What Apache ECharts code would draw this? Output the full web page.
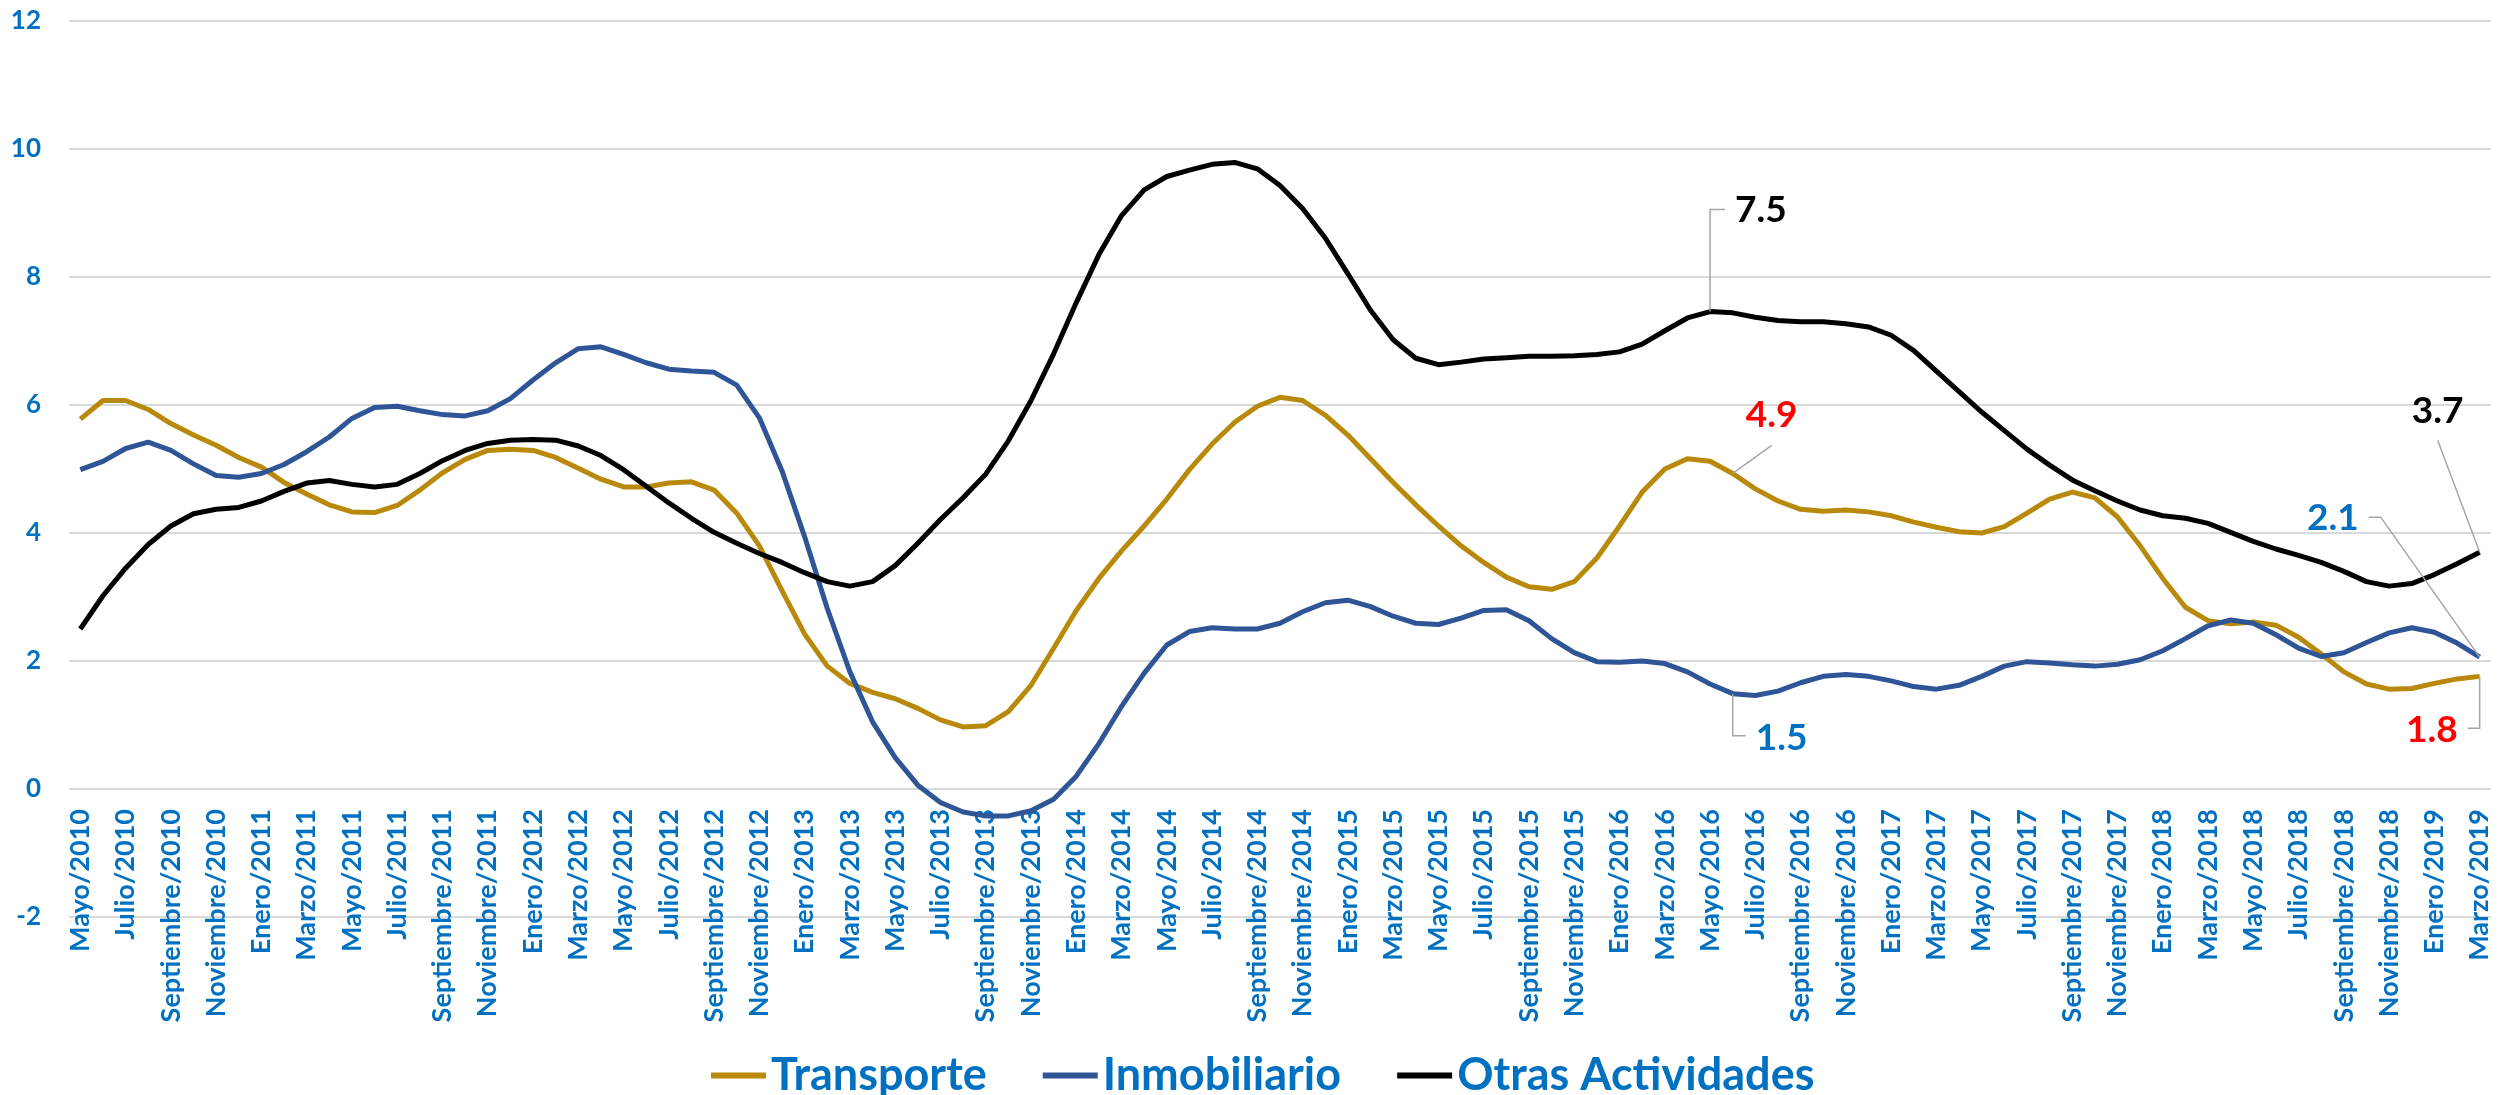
<!DOCTYPE html>
<html>
<head>
<meta charset="utf-8">
<script src="https://cdn.jsdelivr.net/npm/echarts@6/dist/echarts.min.js"></script>
<style>
  html, body { margin: 0; padding: 0; background: #fff; }
  #main { width: 2499px; height: 1095px; }
</style>
</head>
<body>
<div id="main"></div>
<script>
// meses, mayo 2010 a marzo 2019
var categorias = [
  'Mayo/2010','Junio/2010','Julio/2010','Agosto/2010','Septiembre/2010','Octubre/2010','Noviembre/2010','Diciembre/2010',
  'Enero/2011','Febrero/2011','Marzo/2011','Abril/2011','Mayo/2011','Junio/2011','Julio/2011','Agosto/2011','Septiembre/2011','Octubre/2011','Noviembre/2011','Diciembre/2011',
  'Enero/2012','Febrero/2012','Marzo/2012','Abril/2012','Mayo/2012','Junio/2012','Julio/2012','Agosto/2012','Septiembre/2012','Octubre/2012','Noviembre/2012','Diciembre/2012',
  'Enero/2013','Febrero/2013','Marzo/2013','Abril/2013','Mayo/2013','Junio/2013','Julio/2013','Agosto/2013','Septiembre/2013','Octubre/2013','Noviembre/2013','Diciembre/2013',
  'Enero/2014','Febrero/2014','Marzo/2014','Abril/2014','Mayo/2014','Junio/2014','Julio/2014','Agosto/2014','Septiembre/2014','Octubre/2014','Noviembre/2014','Diciembre/2014',
  'Enero/2015','Febrero/2015','Marzo/2015','Abril/2015','Mayo/2015','Junio/2015','Julio/2015','Agosto/2015','Septiembre/2015','Octubre/2015','Noviembre/2015','Diciembre/2015',
  'Enero/2016','Febrero/2016','Marzo/2016','Abril/2016','Mayo/2016','Junio/2016','Julio/2016','Agosto/2016','Septiembre/2016','Octubre/2016','Noviembre/2016','Diciembre/2016',
  'Enero/2017','Febrero/2017','Marzo/2017','Abril/2017','Mayo/2017','Junio/2017','Julio/2017','Agosto/2017','Septiembre/2017','Octubre/2017','Noviembre/2017','Diciembre/2017',
  'Enero/2018','Febrero/2018','Marzo/2018','Abril/2018','Mayo/2018','Junio/2018','Julio/2018','Agosto/2018','Septiembre/2018','Octubre/2018','Noviembre/2018','Diciembre/2018',
  'Enero/2019','Febrero/2019','Marzo/2019'
];

var transporte = [
  5.78, 6.07, 6.07, 5.93, 5.71, 5.53, 5.37, 5.18,
  5.03, 4.79, 4.61, 4.44, 4.33, 4.32, 4.43, 4.67, 4.94, 5.15, 5.29, 5.31,
  5.29, 5.18, 5.01, 4.84, 4.72, 4.72, 4.78, 4.80, 4.67, 4.31, 3.80, 3.10,
  2.42, 1.92, 1.65, 1.51, 1.41, 1.26, 1.08, 0.97, 0.99, 1.21, 1.62, 2.20,
  2.79, 3.29, 3.72, 4.11, 4.53, 4.99, 5.39, 5.73, 5.98, 6.12, 6.07, 5.84,
  5.53, 5.16, 4.79, 4.44, 4.11, 3.80, 3.54, 3.31, 3.16, 3.12, 3.24, 3.61,
  4.11, 4.64, 5.00, 5.16, 5.12, 4.93, 4.69, 4.50, 4.37, 4.34, 4.36, 4.33,
  4.27, 4.17, 4.09, 4.02, 4.00, 4.10, 4.31, 4.53, 4.64, 4.55, 4.25, 3.80,
  3.29, 2.84, 2.63, 2.58, 2.61, 2.56, 2.37, 2.11, 1.83, 1.64, 1.56, 1.57,
  1.65, 1.72, 1.76
];

var inmobiliario = [
  4.99, 5.12, 5.32, 5.42, 5.29, 5.08, 4.90, 4.87,
  4.93, 5.07, 5.27, 5.50, 5.79, 5.96, 5.98, 5.91, 5.85, 5.83, 5.91, 6.10,
  6.39, 6.66, 6.88, 6.91, 6.79, 6.66, 6.56, 6.53, 6.51, 6.31, 5.80, 4.97,
  3.94, 2.82, 1.83, 1.05, 0.49, 0.06, -0.21, -0.36, -0.42, -0.42, -0.34, -0.16,
  0.20, 0.71, 1.29, 1.81, 2.25, 2.46, 2.52, 2.50, 2.50, 2.59, 2.77, 2.91,
  2.95, 2.85, 2.70, 2.59, 2.57, 2.67, 2.79, 2.80, 2.63, 2.35, 2.13, 1.99,
  1.98, 2.00, 1.96, 1.83, 1.64, 1.49, 1.46, 1.53, 1.66, 1.76, 1.79, 1.76,
  1.69, 1.60, 1.56, 1.62, 1.76, 1.92, 1.99, 1.97, 1.94, 1.92, 1.95, 2.02,
  2.16, 2.35, 2.55, 2.64, 2.59, 2.41, 2.20, 2.07, 2.13, 2.29, 2.44, 2.52,
  2.45, 2.28, 2.06
];

var otras = [
  2.50, 3.02, 3.45, 3.82, 4.11, 4.30, 4.37, 4.40,
  4.50, 4.65, 4.78, 4.82, 4.76, 4.72, 4.76, 4.93, 5.13, 5.29, 5.40, 5.45,
  5.46, 5.45, 5.36, 5.21, 4.99, 4.73, 4.47, 4.23, 4.01, 3.84, 3.68, 3.54,
  3.38, 3.24, 3.17, 3.24, 3.49, 3.84, 4.21, 4.55, 4.92, 5.44, 6.07, 6.80,
  7.60, 8.35, 8.96, 9.36, 9.57, 9.67, 9.76, 9.79, 9.69, 9.43, 9.07, 8.61,
  8.05, 7.48, 7.02, 6.73, 6.63, 6.67, 6.72, 6.74, 6.76, 6.76, 6.77, 6.79,
  6.83, 6.95, 7.16, 7.36, 7.46, 7.44, 7.37, 7.32, 7.30, 7.30, 7.27, 7.22,
  7.09, 6.85, 6.53, 6.21, 5.89, 5.60, 5.31, 5.06, 4.83, 4.66, 4.50, 4.36,
  4.27, 4.23, 4.15, 4.01, 3.87, 3.75, 3.65, 3.54, 3.40, 3.24, 3.17, 3.21,
  3.35, 3.52, 3.70
];

var series = [
  { name: 'Transporte', data: transporte, color: '#B8890A' },
  { name: 'Inmobiliario', data: inmobiliario, color: '#2F5597' },
  { name: 'Otras Actividades', data: otras, color: '#000000' }
];

// etiquetas con línea guía: serie, índice, color, tramo de la guía, posición del texto
var etiquetas = [
  { serie: otras, idx: 72, color: '#000000', guia: [[0, 0], [0, -102], [15, -102]], tx: 25, ty: -101, align: 'left' },
  { serie: transporte, idx: 73, color: '#FF0000', guia: [[0, 0], [39, -28]], tx: 39, ty: -58, align: 'center' },
  { serie: inmobiliario, idx: 73, color: '#0070C0', guia: [[0, 0], [0, 42], [13, 42]], tx: 23, ty: 44, align: 'left' },
  { serie: inmobiliario, idx: 106, color: '#0070C0', guia: [[0, 0], [-99, -140], [-111, -140]], tx: -121, ty: -139, align: 'right' },
  { serie: otras, idx: 106, color: '#000000', guia: [[0, 0], [-42, -112]], tx: -42, ty: -141, align: 'center' },
  { serie: transporte, idx: 106, color: '#FF0000', guia: [[0, 0], [0, 52], [-12, 52]], tx: -22, ty: 54, align: 'right' }
];

var azul = '#0070C0';
var chart = echarts.init(document.getElementById('main'));

var lineas = series.map(function (s) {
  return {
    name: s.name,
    type: 'line',
    data: s.data,
    symbol: 'none',
    smooth: false,
    z: s.name === 'Otras Actividades' ? 4 : 3,
    itemStyle: { color: s.color },
    lineStyle: { color: s.color, width: 5 }
  };
});

lineas.push({
  type: 'custom',
  name: 'etiquetas',
  z: 10,
  silent: true,
  data: etiquetas.map(function (e) { return [e.idx, e.serie[e.idx]]; }),
  renderItem: function (params, api) {
    var e = etiquetas[params.dataIndex];
    var p = api.coord([api.value(0), api.value(1)]);
    var pts = e.guia.map(function (g) { return [p[0] + g[0], p[1] + g[1]]; });
    return {
      type: 'group',
      children: [
        { type: 'polyline', shape: { points: pts }, style: { stroke: '#A6A6A6', lineWidth: 1.5, fill: null } },
        { type: 'text', x: p[0] + e.tx, y: p[1] + e.ty,
          style: { text: api.value(1).toFixed(1), fill: e.color, font: 'bold 37px Lato',
                   align: e.align, verticalAlign: 'middle' } }
      ]
    };
  }
});

var option = {
  backgroundColor: '#ffffff',
  animation: false,
  // grid 0: las series; grid 1: solo las etiquetas del eje x, que en el original cruzan en 0
  grid: [
    { left: 69, right: 8, top: 21, bottom: 178, containLabel: false, outerBoundsMode: 'none' },
    { left: 69, right: 8, top: 21, bottom: 306, containLabel: false, outerBoundsMode: 'none' }
  ],
  legend: {
    data: series.map(function (s) { return s.name; }),
    left: 706,
    top: 1048,
    icon: 'rect',
    itemWidth: 55,
    itemHeight: 6,
    itemGap: 56,
    textStyle: { color: azul, fontFamily: 'Lato', fontWeight: 'bold', fontSize: 45 }
  },
  xAxis: [
    {
      type: 'category',
      gridIndex: 0,
      data: categorias,
      boundaryGap: true,
      axisLine: { show: false },
      axisTick: { show: false },
      axisLabel: { show: false },
      splitLine: { show: false }
    },
    {
      type: 'category',
      gridIndex: 1,
      data: categorias,
      boundaryGap: true,
      axisLine: { show: false },
      axisTick: { show: false },
      axisLabel: {
        interval: 1,
        rotate: 90,
        margin: 20,
        color: azul,
        fontFamily: 'Lato',
        fontWeight: 'bold',
        fontSize: 27
      },
      splitLine: { show: false }
    }
  ],
  yAxis: [
    {
      type: 'value',
      gridIndex: 0,
      min: -2,
      max: 12,
      interval: 2,
      axisLine: { show: false },
      axisTick: { show: false },
      axisLabel: { color: azul, fontFamily: 'Lato', fontWeight: 'bold', fontSize: 26, margin: 28 },
      splitLine: { lineStyle: { color: '#D9D9D9', width: 2 } }
    },
    {
      type: 'value',
      gridIndex: 1,
      min: 0,
      max: 12,
      show: false
    }
  ],
  series: lineas
};

chart.setOption(option);
</script>
</body>
</html>
